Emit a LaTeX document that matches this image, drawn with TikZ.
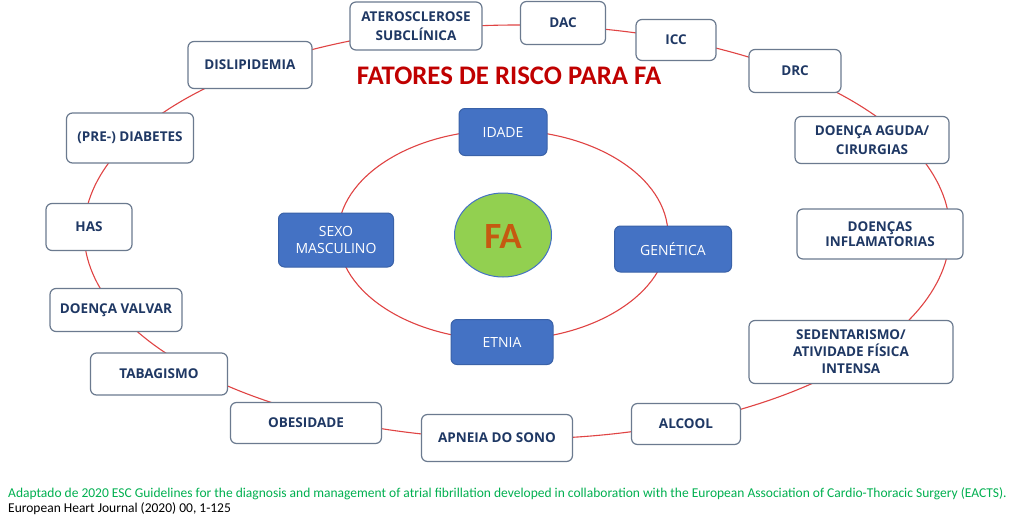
\documentclass[tikz,border=0pt]{standalone}
\usepackage{fontspec}
\usetikzlibrary{shapes.geometric}
\setmainfont{Carlito}
\newfontfamily\boxfont{Open Sans}
\definecolor{ringred}{HTML}{E04444}
\definecolor{boxline}{HTML}{6B7A8F}
\definecolor{boxtext}{HTML}{1F3864}
\definecolor{innerblue}{HTML}{4472C4}
\definecolor{innerline}{HTML}{3A62A8}
\definecolor{fagreen}{HTML}{92D050}
\definecolor{faorange}{HTML}{C55A11}
\definecolor{titlered}{HTML}{C00000}
\definecolor{notegreen}{HTML}{00B050}
\tikzset{
  riskbox/.style={draw=boxline, line width=1.2pt, fill=white, rounded corners=6pt,
    text=boxtext, align=center, inner sep=0pt,
    font=\boxfont\bfseries\fontsize{13.5}{18.5}\selectfont},
  corebox/.style={draw=innerline, line width=1pt, fill=innerblue, rounded corners=6pt,
    text=white, align=center, inner sep=0pt,
    font=\boxfont\fontsize{14}{16.5}\selectfont},
  ring/.style={draw=ringred, line width=1.1pt}
}
\begin{document}
\begin{tikzpicture}[x=1pt,y=-1pt]
    \useasboundingbox[fill=white] (0,0) rectangle (1024,527);
    % rings
    \draw[ring] (517,232) ellipse [x radius=433, y radius=207];
    \draw[ring] (503,235) ellipse [x radius=165, y radius=105];
    % title
    \node (title) at (509,76) {\color{titlered}\bfseries\fontsize{26.8}{30}\selectfont FATORES DE RISCO PARA FA};
    % centre
    \node[draw=innerblue, line width=1pt, fill=fagreen, ellipse, minimum width=97, minimum height=84, inner sep=0pt] (fa) at (503,235) {};
    \node[text=faorange, font=\bfseries\fontsize{37}{40}\selectfont] (fatext) at (503,237) {FA};
    % inner factors
    \node[corebox, minimum width=88, minimum height=47] (idade) at (503,132) {IDADE};
    \node[corebox, minimum width=115, minimum height=54] (sexo) at (336,240) {SEXO\\MASCULINO};
    \node[corebox, minimum width=117, minimum height=46] (genetica) at (673,249) {GENÉTICA};
    \node[corebox, minimum width=102, minimum height=45] (etnia) at (502,342) {ETNIA};
    % outer factors
    \node[riskbox, minimum width=132, minimum height=48] (atero) at (416,26) {ATEROSCLEROSE\\SUBCLÍNICA};
    \node[riskbox, minimum width=85, minimum height=43] (dac) at (563,23) {DAC};
    \node[riskbox, minimum width=80, minimum height=41] (icc) at (676,40) {ICC};
    \node[riskbox, minimum width=92, minimum height=43] (drc) at (795,71) {DRC};
    \node[riskbox, minimum width=154, minimum height=47] (aguda) at (872,140) {DOENÇA AGUDA/\\CIRURGIAS};
    \node[riskbox, minimum width=166, minimum height=50, font=\boxfont\bfseries\fontsize{13.5}{15}\selectfont] (inflam) at (880,234) {DOENÇAS\\INFLAMATORIAS};
    \node[riskbox, minimum width=204, minimum height=63, font=\boxfont\bfseries\fontsize{13.5}{17}\selectfont] (sedent) at (851,352) {SEDENTARISMO/\\ATIVIDADE FÍSICA\\INTENSA};
    \node[riskbox, minimum width=109, minimum height=41] (alcool) at (686,424) {ALCOOL};
    \node[riskbox, minimum width=151, minimum height=47] (apneia) at (497,438) {APNEIA DO SONO};
    \node[riskbox, minimum width=151, minimum height=41] (obesid) at (306,423) {OBESIDADE};
    \node[riskbox, minimum width=137, minimum height=42] (tabag) at (159,374) {TABAGISMO};
    \node[riskbox, minimum width=132, minimum height=43] (valvar) at (116,310) {DOENÇA VALVAR};
    \node[riskbox, minimum width=86, minimum height=47] (has) at (89,227) {HAS};
    \node[riskbox, minimum width=127, minimum height=50] (diab) at (130,138) {(PRE-) DIABETES};
    \node[riskbox, minimum width=124, minimum height=47] (dislip) at (250,65) {DISLIPIDEMIA};
    % source
    \node[anchor=west, text=notegreen, font=\fontsize{13.5}{15}\selectfont, inner sep=0pt] (source) at (8,494)
      {Adaptado de 2020 ESC Guidelines for the diagnosis and management of atrial fibrillation developed in collaboration with the European Association of Cardio-Thoracic Surgery (EACTS).};
    \node[anchor=west, font=\fontsize{13.5}{15}\selectfont, inner sep=0pt] (journal) at (8,509)
      {European Heart Journal (2020) 00, 1-125};
\end{tikzpicture}
\end{document}
